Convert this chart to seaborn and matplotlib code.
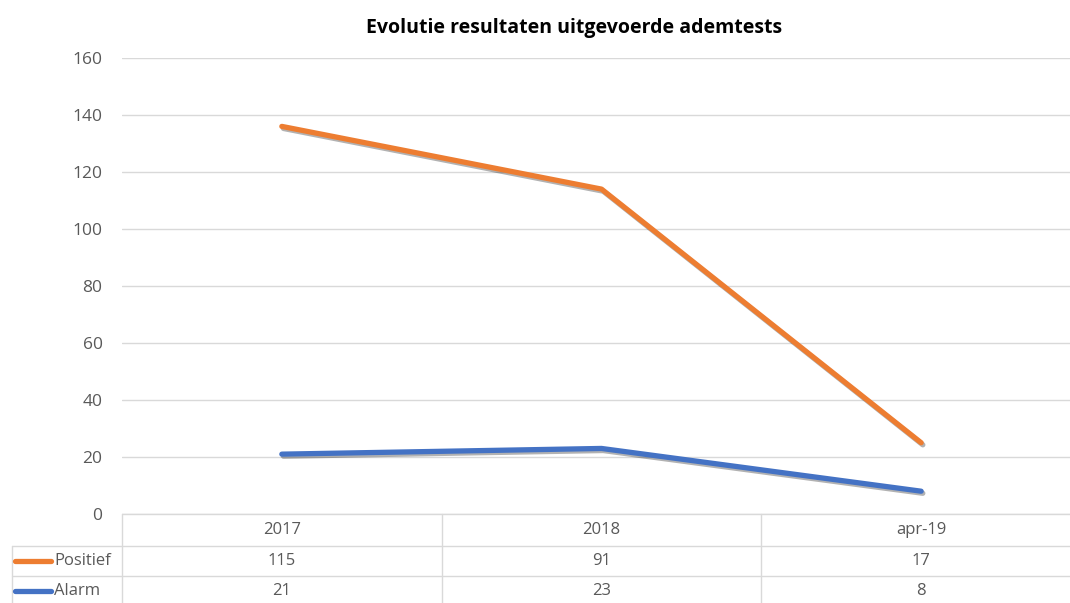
import numpy as np
import pandas as pd
import seaborn as sns
import matplotlib.pyplot as plt
import matplotlib.patheffects as pe
from matplotlib.lines import Line2D

categories = ["2017", "2018", "apr-19"]
positief = [115, 91, 17]
alarm = [21, 23, 8]
colors = {"Positief": "#ED7D31", "Alarm": "#4472C4"}

sns.set_style("white")
plt.rcParams["font.family"] = ["Open Sans", "DejaVu Sans"]

# stacked line chart: Positief sits on top of Alarm
stacked = np.array(positief) + np.array(alarm)
df = pd.DataFrame({
    "cat": list(range(len(categories))) * 2,
    "value": list(alarm) + list(stacked),
    "serie": ["Alarm"] * 3 + ["Positief"] * 3,
})

W, H = 1070, 603
left, right = 122, 1081
fig = plt.figure(figsize=(W / 100, H / 100), dpi=100)
ax = fig.add_axes([left / W, 1 - 514 / H, (right - left) / W, (514 - 58) / H])

sns.lineplot(data=df, x="cat", y="value", hue="serie", palette=colors,
             hue_order=["Alarm", "Positief"], linewidth=3.8, ax=ax,
             legend=False, solid_capstyle="round")
for ln in ax.lines:
    ln.set_path_effects([pe.SimpleLineShadow(offset=(1.2, -1.5), shadow_color="black",
                                             alpha=0.3),
                         pe.Normal()])

ax.set_xlim(-0.5, len(categories) - 0.5)
ax.set_ylim(0, 160)
ax.set_yticks(range(0, 161, 20))
ax.yaxis.grid(True, color="#D9D9D9", linewidth=1)
ax.set_axisbelow(True)
ax.set_xticks([])
ax.set_xlabel("")
ax.set_ylabel("")
ax.tick_params(axis="y", length=0, pad=14, labelsize=12.5, labelcolor="#595959")
for s in ax.spines.values():
    s.set_visible(False)

fig.text(574 / W, 1 - 28 / H, "Evolutie resultaten uitgevoerde ademtests",
         ha="center", va="center", fontsize=14, fontweight="bold", color="black")

# data table under the chart
grid_c = "#D9D9D9"
def fx(px):
    return px / W
def fy(py):
    return 1 - py / H

col_edges = [left + i * (right - left) / 3 for i in range(4)]
rows = [514, 546, 576, 603]
fig.add_artist(Line2D([fx(left), fx(W)], [fy(514)] * 2, color=grid_c, lw=1))
for r in rows[1:3]:
    fig.add_artist(Line2D([fx(12), fx(W)], [fy(r)] * 2, color=grid_c, lw=1))
for c in col_edges[:3]:
    fig.add_artist(Line2D([fx(c)] * 2, [fy(514), fy(603)], color=grid_c, lw=1))
fig.add_artist(Line2D([fx(12)] * 2, [fy(546), fy(603)], color=grid_c, lw=1))

trans = ax.get_xaxis_transform()
for i, cat in enumerate(categories):
    ax.text(i, -(530 - 514) / 456, cat, transform=trans, ha="center", va="center",
            fontsize=12, color="#595959", clip_on=False)
for name, vals, yc in [("Positief", positief, 561), ("Alarm", alarm, 591)]:
    fig.add_artist(Line2D([fx(15), fx(51)], [fy(yc)] * 2, color=colors[name],
                          lw=3.8, solid_capstyle="round"))
    fig.text(fx(54), fy(yc), name, ha="left", va="center", fontsize=12,
             color="#595959")
    for i, v in enumerate(vals):
        ax.text(i, -(yc - 514) / 456, str(v), transform=trans, ha="center",
                va="center", fontsize=12, color="#595959", clip_on=False)

fig.savefig("out.png", dpi=100)
